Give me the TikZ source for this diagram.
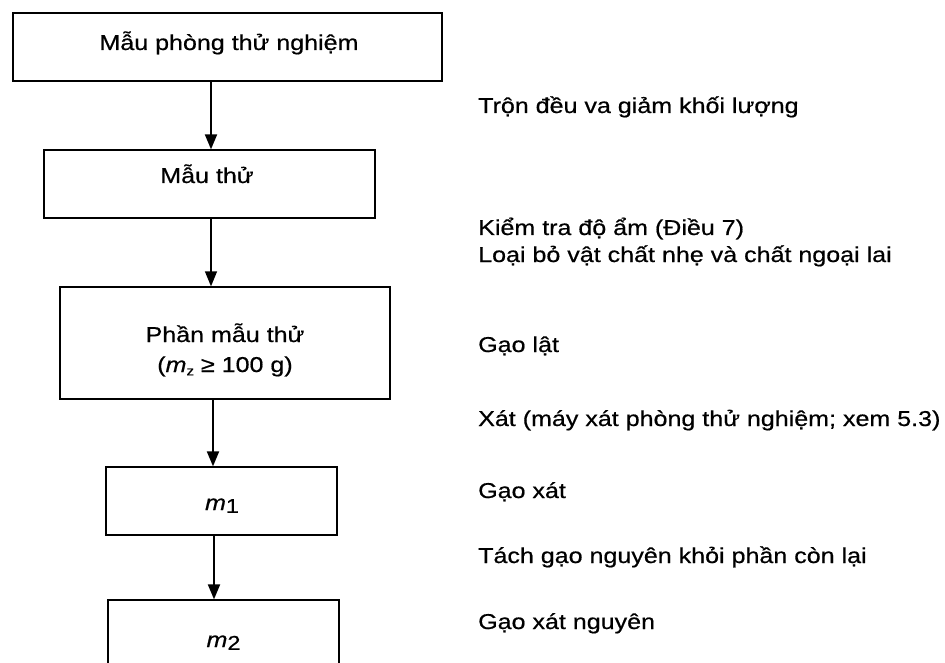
\documentclass[tikz,border=0pt]{standalone}
\usepackage{fontspec}
\setmainfont{Liberation Sans}[FakeStretch=1.165,FakeBold=0.6]
\usetikzlibrary{arrows.meta}
\newcommand\diagfont{\fontsize{21.5}{28}\selectfont}
\begin{document}
\begin{tikzpicture}[x=1pt,y=-1pt,
  box/.style={draw, line width=1.3pt, inner sep=0pt},
  lbl/.style={anchor=base, inner sep=0pt, font=\diagfont},
  note/.style={anchor=base west, inner sep=0pt, font=\diagfont},
  arr/.style={line width=2pt, -{Triangle[length=15pt,width=12pt]}},
  arrthin/.style={line width=1.3pt, -{Triangle[length=15pt,width=12pt]}}]
\useasboundingbox (0,0) rectangle (945,663);
\clip (0,0) rectangle (945,663);
% boxes
\node[box, minimum width=429pt, minimum height=68pt] (b1) at (227.5,47) {};
\node[box, minimum width=331pt, minimum height=68pt] (b2) at (209.5,184) {};
\node[box, minimum width=330pt, minimum height=112pt] (b3) at (225,343) {};
\node[box, minimum width=231pt, minimum height=68pt] (b4) at (221.5,501) {};
\node[box, minimum width=231pt, minimum height=72pt] (b5) at (223.5,636) {};
% box labels
\node[lbl] (t1) at (229,50) {Mẫu phòng thử nghiệm};
\node[lbl] (t2) at (207,183) {Mẫu thử};
\node[lbl] (t3a) at (225,342) {Phần mẫu thử};
\node[lbl] (t3b) at (225,372) {({\itshape m}\raisebox{-0.3ex}{\fontsize{13}{14}\selectfont z} ≥ 100 g)};
\node[lbl] (t4) at (222,510) {{\itshape m}\raisebox{-0.25ex}{\fontsize{20}{20}\selectfont 1}};
\node[lbl] (t5) at (223.5,647) {{\itshape m}\raisebox{-0.25ex}{\fontsize{20}{20}\selectfont 2}};
% arrows
\coordinate (x1) at (211,0);
\coordinate (x2) at (211,0);
\coordinate (x3) at (213,0);
\coordinate (x4) at (214,0);
\draw[arr] (b1.south -| x1) -- (b2.north -| x1);
\draw[arrthin] (b2.south -| x2) -- (b3.north -| x2);
\draw[arr] (b3.south -| x3) -- (b4.north -| x3);
\draw[arr] (b4.south -| x4) -- (b5.north -| x4);
% notes
\node[note] (n1) at (478,113) {Trộn đều va giảm khối lượng};
\node[note] (n2) at (478,235) {Kiểm tra độ ẩm (Điều 7)};
\node[note] (n3) at (478,262) {Loại bỏ vật chất nhẹ và chất ngoại lai};
\node[note] (n4) at (478,352) {Gạo lật};
\node[note] (n5) at (478,426) {Xát (máy xát phòng thử nghiệm; xem 5.3)};
\node[note] (n6) at (478,498) {Gạo xát};
\node[note] (n7) at (478,563) {Tách gạo nguyên khỏi phần còn lại};
\node[note] (n8) at (478,629) {Gạo xát nguyên};
\end{tikzpicture}
\end{document}
